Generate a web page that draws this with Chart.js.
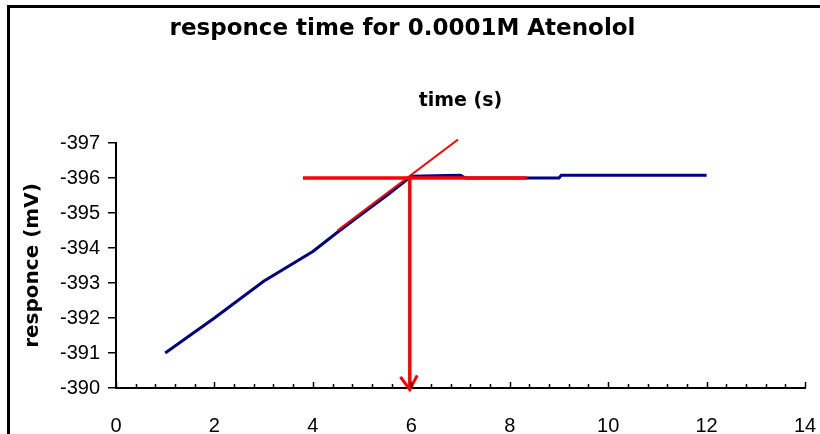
<!DOCTYPE html>
<html>
<head>
<meta charset="utf-8">
<script src="https://cdn.jsdelivr.net/npm/chart.js@4/dist/chart.umd.min.js"></script>
<style>
  body { margin: 0; background: #fff; }
  #wrap { position: relative; width: 820px; height: 434px; overflow: hidden; }
  #frame { position: absolute; left: 7px; top: 5px; right: -10px; bottom: -10px;
           border-left: 3px solid #000; border-top: 3px solid #000; }
  canvas { position: absolute; left: 0; top: 0; }
</style>
</head>
<body>
<div id="wrap">
  <div id="frame"></div>
  <canvas id="chart" width="820" height="434"></canvas>
</div>
<script>
// Data
const times    = [1, 2, 3, 4, 4.5, 5, 5.5, 6, 7, 7.1, 9, 9.05, 10, 11, 12];
const response = [-391, -392, -393.05, -393.9, -394.45, -394.98, -395.5, -396.05, -396.08, -396.0, -396.0, -396.08, -396.08, -396.08, -396.08];

// Construction lines (tangent, plateau, drop to the time axis)
const tangentX = [4.5, 6.95];
const tangentY = [-394.5, -397.1];
const plateauX = [3.8, 8.35];
const plateauY = [-396, -396];
const dropX = [5.97, 5.97];
const dropY = [-396, -390];
const arrowX = [5.78, 5.97, 6.12];
const arrowY = [-390.32, -389.95, -390.36];

const xTicks = [0, 2, 4, 6, 8, 10, 12, 14];
const yTicks = [-397, -396, -395, -394, -393, -392, -391, -390];

const pts = (xs, ys) => xs.map((x, i) => ({ x: x, y: ys[i] }));

const navy = '#000080';
const red = '#ff0000';

// Excel style inward tick marks on the time axis
const innerTicks = {
    id: 'innerTicks',
    afterDatasetsDraw(chart) {
        const xs = chart.scales.x;
        const ctx = chart.ctx;
        const base = chart.chartArea.bottom;
        ctx.save();
        ctx.strokeStyle = '#000';
        ctx.lineWidth = 1.5;
        for (let i = 0; i <= 35; i++) {
            const v = i * 0.4;
            const major = i % 5 === 0;
            const px = Math.round(xs.getPixelForValue(v)) + 0.5;
            ctx.beginPath();
            ctx.moveTo(px, base);
            ctx.lineTo(px, base - (major ? 6 : 4));
            ctx.stroke();
        }
        ctx.restore();
    }
};

const line = (data, color, width, order) => ({
    data: data,
    borderColor: color,
    backgroundColor: color,
    borderWidth: width,
    pointRadius: 0,
    showLine: true,
    tension: 0,
    clip: false,
    order: order
});

new Chart(document.getElementById('chart'), {
    type: 'scatter',
    data: {
        datasets: [
            line(pts(times, response), navy, 3, 1),
            line(pts(tangentX, tangentY), red, 2, 0),
            line(pts(plateauX, plateauY), red, 3.5, 0),
            line(pts(dropX, dropY), red, 3.5, 0),
            line(pts(arrowX, arrowY), red, 3, 0)
        ]
    },
    options: {
        responsive: false,
        animation: false,
        layout: { padding: { left: 0, right: 15, top: 0, bottom: 0 } },
        plugins: {
            legend: { display: false },
            tooltip: { enabled: false },
            title: {
                display: true,
                text: 'responce time for 0.0001M Atenolol',
                color: '#000',
                font: { family: 'DejaVu Sans', size: 23, weight: 'bold' },
                padding: { top: 15, bottom: 10 }
            }
        },
        scales: {
            x: {
                type: 'linear',
                min: 0,
                max: 14,
                afterFit: (s) => { s.height = 46; s.paddingRight = 0; s.paddingLeft = 0; },
                afterBuildTicks: (s) => { s.ticks = xTicks.map(v => ({ value: v })); },
                grid: { display: false, drawTicks: false },
                border: { display: true, color: '#000', width: 2 },
                ticks: {
                    color: '#000',
                    padding: 26,
                    maxRotation: 0,
                    font: { family: 'Liberation Sans', size: 20 }
                }
            },
            // axis title sits above the plot, as in the original
            xTop: {
                type: 'linear',
                position: 'top',
                min: 0,
                max: 14,
                afterFit: (s) => { s.height = 90.4; s.paddingRight = 0; s.paddingLeft = 0; },
                grid: { display: false, drawTicks: false },
                border: { display: false },
                ticks: { display: false },
                title: {
                    display: true,
                    text: 'time (s)',
                    color: '#000',
                    font: { family: 'DejaVu Sans', size: 19, weight: 'bold' },
                    padding: { top: 37, bottom: 0 }
                }
            },
            y: {
                type: 'linear',
                min: -397,
                max: -390,
                reverse: true,
                afterFit: (s) => { s.width = 116; },
                afterBuildTicks: (s) => { s.ticks = yTicks.map(v => ({ value: v })); },
                grid: { drawOnChartArea: false, drawTicks: true, tickLength: 8, color: '#000', lineWidth: 1.5 },
                border: { display: true, color: '#000', width: 2 },
                title: {
                    display: true,
                    text: 'responce (mV)',
                    color: '#000',
                    font: { family: 'DejaVu Sans', size: 20, weight: 'bold' },
                    padding: { top: 21, bottom: 0 }
                },
                ticks: {
                    color: '#000',
                    padding: 8,
                    font: { family: 'Liberation Sans', size: 20 }
                }
            }
        }
    },
    plugins: [innerTicks]
});
</script>
</body>
</html>
